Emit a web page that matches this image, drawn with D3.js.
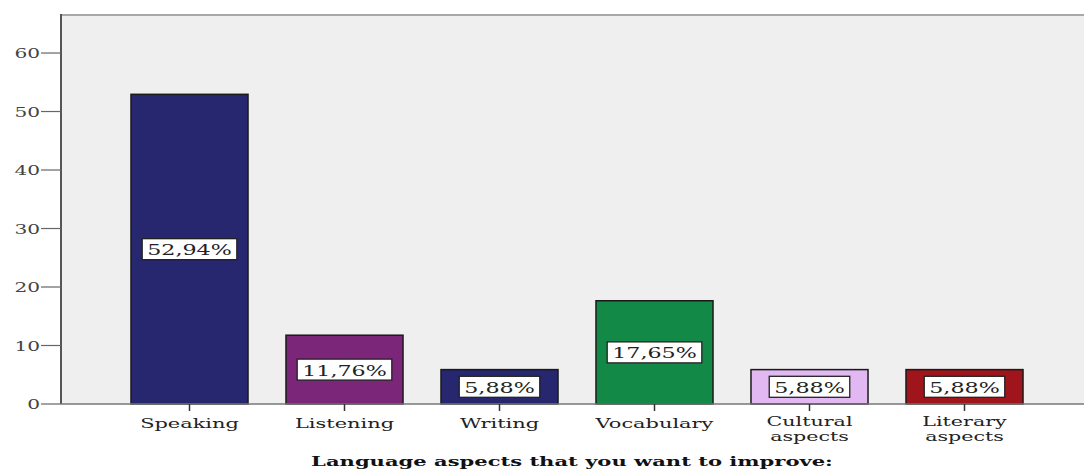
<!DOCTYPE html>
<html><head><meta charset="utf-8">
<script src="https://cdn.jsdelivr.net/npm/d3@7"></script>
<style>body{margin:0;background:#fff}svg{display:block}</style>
</head><body>
<svg id="c" width="1084" height="469"></svg>
<script>
const categories = ["Speaking","Listening","Writing","Vocabulary","Cultural\naspects","Literary\naspects"];
const values = [52.94, 11.76, 5.88, 17.65, 5.88, 5.88];
const labels = ["52,94%","11,76%","5,88%","17,65%","5,88%","5,88%"];
const colors = ["#26276e","#7b2678","#26276e","#138947","#e2b8f2","#a0151b"];
const yTicks = [0,10,20,30,40,50,60];
const xTitle = "Language aspects that you want to improve:";

const svg = d3.select("#c");
const pL = 61, pT = 15, pB = 404, pR = 1084;
const y = d3.scaleLinear().domain([0, 66.5]).range([pB, pT]);
const x = d3.scaleBand().domain(categories).range([112, 1042]).paddingInner(0.245).paddingOuter(0.1225);
const font = "'DejaVu Serif', serif";

svg.append("rect").attr("x", pL).attr("y", pT).attr("width", pR-pL).attr("height", pB-pT).attr("fill", "#efefef");
svg.append("line").attr("x1", pL).attr("x2", pR).attr("y1", pT).attr("y2", pT).attr("stroke", "#a8a8a8").attr("stroke-width", 2);

// y axis
const ya = svg.append("g").attr("transform", `translate(${pL},0)`);
ya.append("line").attr("x1",0).attr("x2",0).attr("y1",pT-1).attr("y2",pB).attr("stroke","#555").attr("stroke-width",2);
yTicks.forEach(t => {
  ya.append("line").attr("x1",-20).attr("x2",0).attr("y1",y(t)).attr("y2",y(t)).attr("stroke","#666").attr("stroke-width",1.2);
  ya.append("text").attr("transform",`translate(-21,${y(t)+5}) scale(1.55,1)`).attr("text-anchor","end")
    .attr("font-family",font).attr("font-size",13).attr("fill","#444").text(t);
});

// bars
categories.forEach((c,i) => {
  const bx = x(c), bw = x.bandwidth();
  svg.append("rect").attr("x", bx).attr("y", y(values[i])).attr("width", bw).attr("height", y(0)-y(values[i]))
    .attr("fill", colors[i]).attr("stroke", "#1a1a1a").attr("stroke-width", 1.5);
  const cy = (y(values[i]) + y(0)) / 2;
  const g = svg.append("g").attr("transform", `translate(${bx+bw/2},${cy})`);
  const s = 1.48;
  const t = g.append("text").attr("transform", `scale(${s},1)`).attr("text-anchor","middle").attr("y",6)
    .attr("font-family",font).attr("font-size",15).attr("fill","#222").text(labels[i]);
  const bb = t.node().getBBox();
  g.insert("rect","text").attr("x", -bb.width*s/2-5).attr("y", -10.5).attr("width", bb.width*s+10).attr("height", 21)
    .attr("fill","#fff").attr("stroke","#222").attr("stroke-width",1.3);
});

// x axis
svg.append("line").attr("x1",pL).attr("x2",pR).attr("y1",pB).attr("y2",pB).attr("stroke","#777").attr("stroke-width",1.5);
categories.forEach(c => {
  const cx = x(c) + x.bandwidth()/2;
  svg.append("line").attr("x1",cx).attr("x2",cx).attr("y1",pB).attr("y2",pB+7).attr("stroke","#333").attr("stroke-width",1.5);
  const lines = c.split("\n");
  lines.forEach((ln,j) => {
    const multi = lines.length > 1;
    svg.append("text").attr("transform",`translate(${cx},${pB+(multi?22:24)+j*14.5}) scale(${multi?1.65:1.55},1)`).attr("text-anchor","middle")
      .attr("font-family",font).attr("font-size",multi?12.5:13.5).attr("fill","#222").text(ln);
  });
});
svg.append("text").attr("transform",`translate(572,466) scale(1.62,1)`).attr("text-anchor","middle")
  .attr("font-family",font).attr("font-weight","bold").attr("font-size",13).attr("fill","#111").text(xTitle);
</script>
</body></html>
